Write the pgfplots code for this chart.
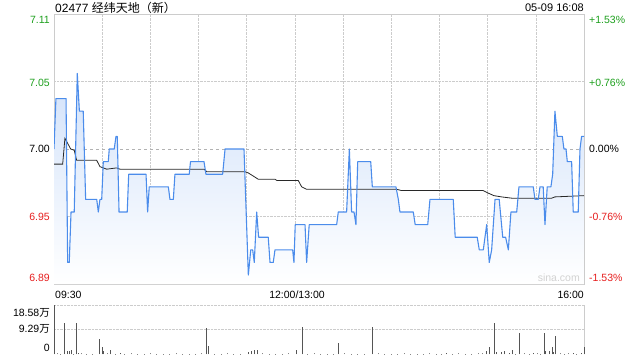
\documentclass[border=0pt]{standalone}
\usepackage{fontspec}
\setmainfont{Liberation Sans}
\newfontfamily\cjk{Noto Sans CJK SC}
\usepackage{pgfplots}
\usepackage{pgfplotstable}
\pgfplotsset{compat=1.18}
\definecolor{pline}{RGB}{75,140,235}
\definecolor{gridc}{RGB}{204,204,204}
\definecolor{upg}{RGB}{30,160,30}
\definecolor{dnr}{RGB}{230,30,30}
\definecolor{fillb}{RGB}{210,226,250}
\definecolor{barc}{RGB}{85,85,85}
\definecolor{avgc}{RGB}{40,40,40}

\pgfplotstableread{
t p
0 7.00
1.2 7.04
7.5 7.04
8.5 6.91
9.5 6.91
10.6 6.95
12.6 6.95
14.5 7.06
15.8 7.03
18.2 7.03
19.7 6.96
26.6 6.96
27.6 6.95
28.6 6.96
29.7 6.96
30.7 6.99
33.8 6.99
34.4 7.00
37.5 7.00
38.6 7.01
39.4 7.01
40.5 6.95
45.6 6.95
46.5 6.98
57.3 6.98
58.3 6.95
59.3 6.97
71.2 6.97
72.2 6.96
74.3 6.96
75.3 6.98
84.2 6.98
85.0 6.99
93.4 6.99
94.6 6.98
105.0 6.98
106.5 7.00
118.3 7.00
121.0 6.90
122.5 6.92
123.7 6.92
124.7 6.91
126.2 6.95
127.4 6.93
133.4 6.93
134.5 6.91
136.5 6.91
137.6 6.92
148.6 6.92
149.4 6.91
150.2 6.94
156.3 6.94
157.3 6.91
158.9 6.94
176.0 6.94
177.0 6.95
182.2 6.95
183.9 7.00
185.3 6.95
186.8 6.95
188.0 6.94
189.1 6.99
197.2 6.99
198.2 6.97
212.9 6.97
214.4 6.96
215.4 6.95
223.7 6.95
224.9 6.94
232.7 6.94
234.1 6.96
248.6 6.96
249.8 6.93
263.5 6.93
264.8 6.92
267.3 6.92
269.4 6.94
271.0 6.91
272.5 6.92
274.6 6.96
277.2 6.96
279.4 6.93
281.2 6.93
282.9 6.92
284.5 6.95
288.1 6.95
289.5 6.97
298.4 6.97
299.5 6.96
301.5 6.96
302.6 6.97
304.6 6.97
305.7 6.94
307.1 6.97
309.4 6.97
310.5 6.98
311.9 7.03
313.4 7.01
316.5 7.01
317.5 7.00
318.8 7.00
319.6 6.99
322.3 6.99
323.3 6.95
326.4 6.95
327.5 7.00
328.5 7.01
330 7.01
}\pricetab

\pgfplotstableread{
t a
0 6.988
5.4 6.988
6.8 7.0085
8.3 7.005
10.4 7.000
12.6 6.999
14.1 6.991
26.6 6.991
28.6 6.986
32.8 6.984
39.0 6.985
41.1 6.984
93.4 6.984
95.1 6.982
118.9 6.982
121.0 6.981
127.2 6.976
137.6 6.976
138.8 6.975
152.1 6.975
154.2 6.970
157.3 6.968
213.4 6.968
216.5 6.967
267.3 6.967
270.4 6.965
273.9 6.963
278.7 6.962
285.0 6.961
309.9 6.961
311.9 6.962
330 6.963
}\avgtab

\pgfplotstableread{
t v
0 18.58
6.8 11.7
8.5 1.2
9.5 1.3
10.6 1.5
14.1 11.7
15.1 0.4
28.2 5.8
29.9 2.8
30.7 1.2
35.3 1.5
41.1 0.6
95.1 9.9
96.1 3.1
120.8 1.0
122.7 1.2
124.5 1.5
126.8 1.8
150.7 1.6
154.6 10.4
177.4 4.3
198.2 10.5
244.5 0.6
269.0 1.2
271.0 2.7
274.1 11.7
275.6 0.7
278.3 0.7
280.4 1.2
283.5 0.5
285.3 1.5
290.1 8.2
298.8 0.5
305.3 8.2
306.1 1.2
308.4 1.2
310.2 2.8
310.9 1.0
312.1 6.8
323.3 0.5
328.5 0.5
330 2.8
}\voltab

\pgfplotstableread{
t v
2 0.4
4 0.3
12 0.3
17 0.4
20 0.3
24 0.2
33 0.4
38 0.3
44 0.3
48 0.4
52 0.2
56 0.3
60 0.4
64 0.3
68 0.2
72 0.3
76 0.4
80 0.3
84 0.2
88 0.3
92 0.4
100 0.3
104 0.2
108 0.4
112 0.3
116 0.3
130 0.4
134 0.3
138 0.2
142 0.3
146 0.4
158 0.3
162 0.4
166 0.3
170 0.2
174 0.3
181 0.4
185 0.3
189 0.2
193 0.3
202 0.4
206 0.3
210 0.2
214 0.3
218 0.4
222 0.3
226 0.2
230 0.3
234 0.4
238 0.3
241 0.2
248 0.3
252 0.4
256 0.3
260 0.2
264 0.4
267 0.5
287 0.3
293 0.4
296 0.3
301 0.4
303 0.3
315 0.4
318 0.3
320 0.4
325 0.3
}\smalltab

\begin{document}
\begin{tikzpicture}
\path[use as bounding box] (0pt,0pt) rectangle (640pt,360pt);

\begin{axis}[
  at={(54pt,76pt)}, anchor=south west,
  width=530pt, height=270pt, scale only axis,
  xmin=0, xmax=330, ymin=6.8929, ymax=7.1071,
  xtick={30,60,...,300}, ytick={6.9464,7.0536},
  xticklabels={}, yticklabels={},
  major tick length=0pt,
  grid=major,
  major grid style={gridc, densely dotted, line width=0.6pt},
  axis line style={gridc, line width=0.8pt},
  extra y ticks={7}, extra y tick labels={},
  extra y tick style={grid=major, major grid style={gray!60, dash pattern=on 3pt off 3pt, line width=0.6pt}},
]
\addplot[draw=none, top color=fillb, bottom color=white, forget plot] table[x=t,y=p] {\pricetab} -- (axis cs:330,6.8929) -- (axis cs:0,6.8929) -- cycle;
\addplot[avgc, line width=0.8pt, mark=none] table[x=t,y=a] {\avgtab};
\addplot[pline, line width=1.1pt, mark=none, line join=round] table[x=t,y=p] {\pricetab};
\end{axis}

\begin{axis}[
  at={(54pt,5.7pt)}, anchor=south west,
  width=530pt, height=49pt, scale only axis,
  xmin=0, xmax=330, ymin=0, ymax=18.58,
  xtick=\empty, ytick={9.29,18.58}, yticklabels={},
  major tick length=0pt,
  ymajorgrids,
  major grid style={gridc, densely dotted, line width=0.8pt},
  axis line style={draw=none},
  clip=false,
]
\draw[gridc, line width=0.8pt] (rel axis cs:1,0) -- (rel axis cs:1,1);
\addplot[ycomb, barc!70, line width=0.8pt, mark=none] table[x=t,y=v] {\smalltab};
\addplot[ycomb, barc, line width=0.9pt, mark=none] table[x=t,y=v] {\voltab};
\end{axis}

\begin{scope}[every node/.style={inner sep=0pt, font=\fontsize{10.5}{12}\selectfont}]
\node[anchor=west, font=\fontsize{12}{14}\selectfont] at (55pt,352pt) {02477 {\cjk 经纬天地（新）}};
\node[anchor=east, font=\fontsize{11}{13}\selectfont] at (584pt,352pt) {05-09 16:08};
\node[anchor=east, text=upg] at (50pt,340pt) {7.11};
\node[anchor=east, text=upg] at (50pt,277.5pt) {7.05};
\node[anchor=east] at (50pt,211pt) {7.00};
\node[anchor=east, text=dnr] at (50pt,143.5pt) {6.95};
\node[anchor=east, text=dnr] at (50pt,82pt) {6.89};
\node[anchor=west, text=upg] at (589pt,340pt) {+1.53\%};
\node[anchor=west, text=upg] at (589pt,277.5pt) {+0.76\%};
\node[anchor=west] at (589pt,211pt) {0.00\%};
\node[anchor=west, text=dnr] at (589pt,143.5pt) {-0.76\%};
\node[anchor=west, text=dnr] at (589pt,82pt) {-1.53\%};
\node[anchor=east, text=gray!35] at (580pt,82pt) {sina.com};
\node[anchor=west] at (55pt,65.5pt) {09:30};
\node at (297pt,65.5pt) {12:00/13:00};
\node[anchor=east] at (584pt,65.5pt) {16:00};
\node[anchor=east] at (50pt,47.3pt) {18.58{\cjk 万}};
\node[anchor=east] at (50pt,31pt) {9.29{\cjk 万}};
\node[anchor=east] at (50pt,12.5pt) {0};
\end{scope}
\end{tikzpicture}
\end{document}
